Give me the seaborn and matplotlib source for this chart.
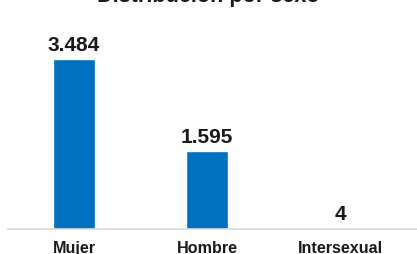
import matplotlib
matplotlib.use("Agg")
import matplotlib.pyplot as plt
import seaborn as sns

# data
categorias = ["Mujer", "Hombre", "Intersexual"]
valores = [3484, 1595, 4]
etiquetas = ["3.484", "1.595", "4"]

sns.set_style("white")
plt.rcParams['font.family'] = ['Liberation Sans', 'DejaVu Sans']

W, H = 417, 254
fig = plt.figure(figsize=(W / 100, H / 100), dpi=100)
# axes: left 8px, baseline at y=229px, top at y=40px
ax = fig.add_axes([8 / W, (H - 229) / H, (W - 8) / W, 189 / H])

sns.barplot(x=categorias, y=valores, color="#0070C0", saturation=1,
            width=0.316, ax=ax)

ax.set_xlim(-0.496, 2.579)
ax.set_ylim(0, 3484 * 189 / 170)

for i, (v, t) in enumerate(zip(valores, etiquetas)):
    ax.annotate(t, (i, v), xytext=(0, 6), textcoords="offset points",
                ha="center", va="baseline", fontsize=15, fontweight="bold",
                color="#1a1a1a")

sns.despine(ax=ax, left=True, top=True, right=True)
ax.spines["bottom"].set_color("#d9d9d9")
ax.spines["bottom"].set_linewidth(1.2)
ax.set_yticks([])
ax.set_xlabel("")
ax.set_ylabel("")
ax.tick_params(axis="x", length=0, pad=8.8, labelsize=11.6, labelcolor="#1a1a1a")
for lbl in ax.get_xticklabels():
    lbl.set_fontweight("bold")

# title sits mostly above the top edge, as in the source image
fig.text(0.5, 1 - 2 / H, "Distribución por sexo", ha="center", va="baseline",
         fontsize=15.6, fontweight="bold", color="#1a1a1a")

fig.savefig("out.png", dpi=100)
